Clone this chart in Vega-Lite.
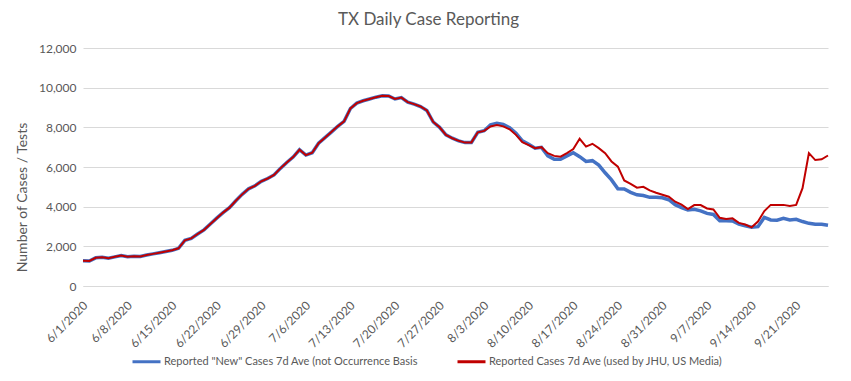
{
"$schema": "https://vega.github.io/schema/vega-lite/v6.json",
"width": 745, "height": 238,
"autosize": {"type": "none"},
"padding": {"left": 83, "top": 48, "right": 23, "bottom": 95},
"background": "white",
"config": {"view": {"stroke": null}, "font": "Lato"},
"title": {"text": "TX Daily Case Reporting", "fontSize": 17, "fontWeight": "normal", "color": "#595959", "font": "Lato", "anchor": "middle", "dx": -27, "offset": 13},
"data": {"values": [
{"date":"2020-06-01","new":1270,"rep":1270},
{"date":"2020-06-02","new":1260,"rep":1260},
{"date":"2020-06-03","new":1420,"rep":1420},
{"date":"2020-06-04","new":1450,"rep":1450},
{"date":"2020-06-05","new":1400,"rep":1400},
{"date":"2020-06-06","new":1470,"rep":1470},
{"date":"2020-06-07","new":1540,"rep":1540},
{"date":"2020-06-08","new":1480,"rep":1480},
{"date":"2020-06-09","new":1500,"rep":1500},
{"date":"2020-06-10","new":1490,"rep":1490},
{"date":"2020-06-11","new":1560,"rep":1560},
{"date":"2020-06-12","new":1620,"rep":1620},
{"date":"2020-06-13","new":1680,"rep":1680},
{"date":"2020-06-14","new":1740,"rep":1740},
{"date":"2020-06-15","new":1800,"rep":1800},
{"date":"2020-06-16","new":1900,"rep":1900},
{"date":"2020-06-17","new":2300,"rep":2300},
{"date":"2020-06-18","new":2400,"rep":2400},
{"date":"2020-06-19","new":2620,"rep":2620},
{"date":"2020-06-20","new":2830,"rep":2830},
{"date":"2020-06-21","new":3130,"rep":3130},
{"date":"2020-06-22","new":3420,"rep":3420},
{"date":"2020-06-23","new":3700,"rep":3700},
{"date":"2020-06-24","new":3950,"rep":3950},
{"date":"2020-06-25","new":4300,"rep":4300},
{"date":"2020-06-26","new":4620,"rep":4620},
{"date":"2020-06-27","new":4900,"rep":4900},
{"date":"2020-06-28","new":5050,"rep":5050},
{"date":"2020-06-29","new":5280,"rep":5280},
{"date":"2020-06-30","new":5420,"rep":5420},
{"date":"2020-07-01","new":5600,"rep":5600},
{"date":"2020-07-02","new":5930,"rep":5930},
{"date":"2020-07-03","new":6230,"rep":6230},
{"date":"2020-07-04","new":6500,"rep":6500},
{"date":"2020-07-05","new":6870,"rep":6870},
{"date":"2020-07-06","new":6600,"rep":6600},
{"date":"2020-07-07","new":6720,"rep":6720},
{"date":"2020-07-08","new":7200,"rep":7200},
{"date":"2020-07-09","new":7480,"rep":7480},
{"date":"2020-07-10","new":7760,"rep":7760},
{"date":"2020-07-11","new":8050,"rep":8050},
{"date":"2020-07-12","new":8300,"rep":8300},
{"date":"2020-07-13","new":8950,"rep":8950},
{"date":"2020-07-14","new":9220,"rep":9220},
{"date":"2020-07-15","new":9340,"rep":9340},
{"date":"2020-07-16","new":9430,"rep":9430},
{"date":"2020-07-17","new":9520,"rep":9520},
{"date":"2020-07-18","new":9590,"rep":9590},
{"date":"2020-07-19","new":9580,"rep":9580},
{"date":"2020-07-20","new":9430,"rep":9430},
{"date":"2020-07-21","new":9500,"rep":9500},
{"date":"2020-07-22","new":9270,"rep":9270},
{"date":"2020-07-23","new":9170,"rep":9170},
{"date":"2020-07-24","new":9050,"rep":9050},
{"date":"2020-07-25","new":8850,"rep":8850},
{"date":"2020-07-26","new":8270,"rep":8270},
{"date":"2020-07-27","new":8000,"rep":8000},
{"date":"2020-07-28","new":7620,"rep":7620},
{"date":"2020-07-29","new":7450,"rep":7450},
{"date":"2020-07-30","new":7320,"rep":7320},
{"date":"2020-07-31","new":7230,"rep":7230},
{"date":"2020-08-01","new":7240,"rep":7240},
{"date":"2020-08-02","new":7750,"rep":7750},
{"date":"2020-08-03","new":7830,"rep":7820},
{"date":"2020-08-04","new":8120,"rep":8040},
{"date":"2020-08-05","new":8200,"rep":8120},
{"date":"2020-08-06","new":8150,"rep":8050},
{"date":"2020-08-07","new":7980,"rep":7900},
{"date":"2020-08-08","new":7700,"rep":7620},
{"date":"2020-08-09","new":7320,"rep":7250},
{"date":"2020-08-10","new":7150,"rep":7100},
{"date":"2020-08-11","new":6950,"rep":6950},
{"date":"2020-08-12","new":6990,"rep":7000},
{"date":"2020-08-13","new":6560,"rep":6700},
{"date":"2020-08-14","new":6390,"rep":6560},
{"date":"2020-08-15","new":6390,"rep":6520},
{"date":"2020-08-16","new":6560,"rep":6700},
{"date":"2020-08-17","new":6720,"rep":6900},
{"date":"2020-08-18","new":6520,"rep":7420},
{"date":"2020-08-19","new":6280,"rep":7030},
{"date":"2020-08-20","new":6320,"rep":7170},
{"date":"2020-08-21","new":6100,"rep":6950},
{"date":"2020-08-22","new":5710,"rep":6700},
{"date":"2020-08-23","new":5350,"rep":6280},
{"date":"2020-08-24","new":4900,"rep":6020},
{"date":"2020-08-25","new":4890,"rep":5320},
{"date":"2020-08-26","new":4720,"rep":5150},
{"date":"2020-08-27","new":4600,"rep":4960},
{"date":"2020-08-28","new":4560,"rep":5000},
{"date":"2020-08-29","new":4470,"rep":4820},
{"date":"2020-08-30","new":4470,"rep":4700},
{"date":"2020-08-31","new":4450,"rep":4600},
{"date":"2020-09-01","new":4350,"rep":4500},
{"date":"2020-09-02","new":4100,"rep":4250},
{"date":"2020-09-03","new":3950,"rep":4100},
{"date":"2020-09-04","new":3830,"rep":3880},
{"date":"2020-09-05","new":3865,"rep":4080},
{"date":"2020-09-06","new":3790,"rep":4080},
{"date":"2020-09-07","new":3660,"rep":3910},
{"date":"2020-09-08","new":3610,"rep":3860},
{"date":"2020-09-09","new":3290,"rep":3440},
{"date":"2020-09-10","new":3290,"rep":3380},
{"date":"2020-09-11","new":3280,"rep":3410},
{"date":"2020-09-12","new":3120,"rep":3180},
{"date":"2020-09-13","new":3040,"rep":3100},
{"date":"2020-09-14","new":2960,"rep":2960},
{"date":"2020-09-15","new":2990,"rep":3250},
{"date":"2020-09-16","new":3460,"rep":3780},
{"date":"2020-09-17","new":3330,"rep":4090},
{"date":"2020-09-18","new":3320,"rep":4090},
{"date":"2020-09-19","new":3410,"rep":4090},
{"date":"2020-09-20","new":3330,"rep":4040},
{"date":"2020-09-21","new":3360,"rep":4090},
{"date":"2020-09-22","new":3250,"rep":4930},
{"date":"2020-09-23","new":3160,"rep":6700},
{"date":"2020-09-24","new":3110,"rep":6350},
{"date":"2020-09-25","new":3110,"rep":6390},
{"date":"2020-09-26","new":3060,"rep":6580}
]},
"transform": [{"fold": ["new", "rep"], "as": ["series", "value"]}],
"encoding": {
  "x": {"field": "date", "type": "temporal",
    "scale": {"type": "utc", "domain": [{"year": 2020, "month": 6, "date": 1, "utc": true}, {"year": 2020, "month": 9, "date": 26, "utc": true}]},
    "axis": {"title": null, "labelExpr": "(utcmonth(datum.value) + 1) + '/' + utcdate(datum.value) + '/' + utcyear(datum.value)", "labelAngle": -45, "labelAlign": "right", "labelBaseline": "middle", "labelPadding": 17, "labelOffset": 2, "labelFontSize": 12, "labelColor": "#595959", "labelFont": "Lato", "ticks": false, "grid": false, "domainColor": "#d9d9d9", "labelOverlap": false, "labelBound": false, "labelFlush": false,
      "values": [
        {"year": 2020, "month": 6, "date": 1, "utc": true},
        {"year": 2020, "month": 6, "date": 8, "utc": true},
        {"year": 2020, "month": 6, "date": 15, "utc": true},
        {"year": 2020, "month": 6, "date": 22, "utc": true},
        {"year": 2020, "month": 6, "date": 29, "utc": true},
        {"year": 2020, "month": 7, "date": 6, "utc": true},
        {"year": 2020, "month": 7, "date": 13, "utc": true},
        {"year": 2020, "month": 7, "date": 20, "utc": true},
        {"year": 2020, "month": 7, "date": 27, "utc": true},
        {"year": 2020, "month": 8, "date": 3, "utc": true},
        {"year": 2020, "month": 8, "date": 10, "utc": true},
        {"year": 2020, "month": 8, "date": 17, "utc": true},
        {"year": 2020, "month": 8, "date": 24, "utc": true},
        {"year": 2020, "month": 8, "date": 31, "utc": true},
        {"year": 2020, "month": 9, "date": 7, "utc": true},
        {"year": 2020, "month": 9, "date": 14, "utc": true},
        {"year": 2020, "month": 9, "date": 21, "utc": true}
      ]}},
  "y": {"field": "value", "type": "quantitative",
    "scale": {"domain": [0, 12000]},
    "axis": {"title": "Number  of Cases / Tests", "titleFontSize": 14, "titleFontWeight": "normal", "titleColor": "#595959", "titleFont": "Lato", "titleX": -61, "titleY": 149, "titleBaseline": "middle", "titleAlign": "center", "titleAngle": -90,
      "values": [0, 2000, 4000, 6000, 8000, 10000, 12000], "labelExpr": "datum.value == 0 ? '0' : (datum.value / 1000) + ',000'", "labelFontSize": 12, "labelColor": "#595959", "labelFont": "Lato", "labelPadding": 7, "ticks": false, "domain": false, "gridColor": "#d9d9d9", "gridWidth": 1}},
  "color": {"field": "series", "type": "nominal",
    "scale": {"domain": ["new", "rep"], "range": ["#4472C4", "#C00000"]},
    "legend": {"title": null, "orient": "none", "legendX": 48, "legendY": 298, "direction": "horizontal", "symbolType": "stroke", "symbolSize": 784, "symbolStrokeWidth": 3, "labelFontSize": 11, "labelColor": "#595959", "labelFont": "Lato", "labelLimit": 400, "labelOffset": 2, "columnPadding": 33,
      "labelExpr": "datum.value === 'new' ? 'Reported \"New\" Cases 7d Ave (not Occurrence Basis' : 'Reported Cases 7d Ave (used by JHU, US Media)'"}}
},
"layer": [
  {"transform": [{"filter": "datum.series === 'new'"}], "mark": {"type": "line", "strokeWidth": 3.5}},
  {"transform": [{"filter": "datum.series === 'rep'"}], "mark": {"type": "line", "strokeWidth": 2}}
]
}
